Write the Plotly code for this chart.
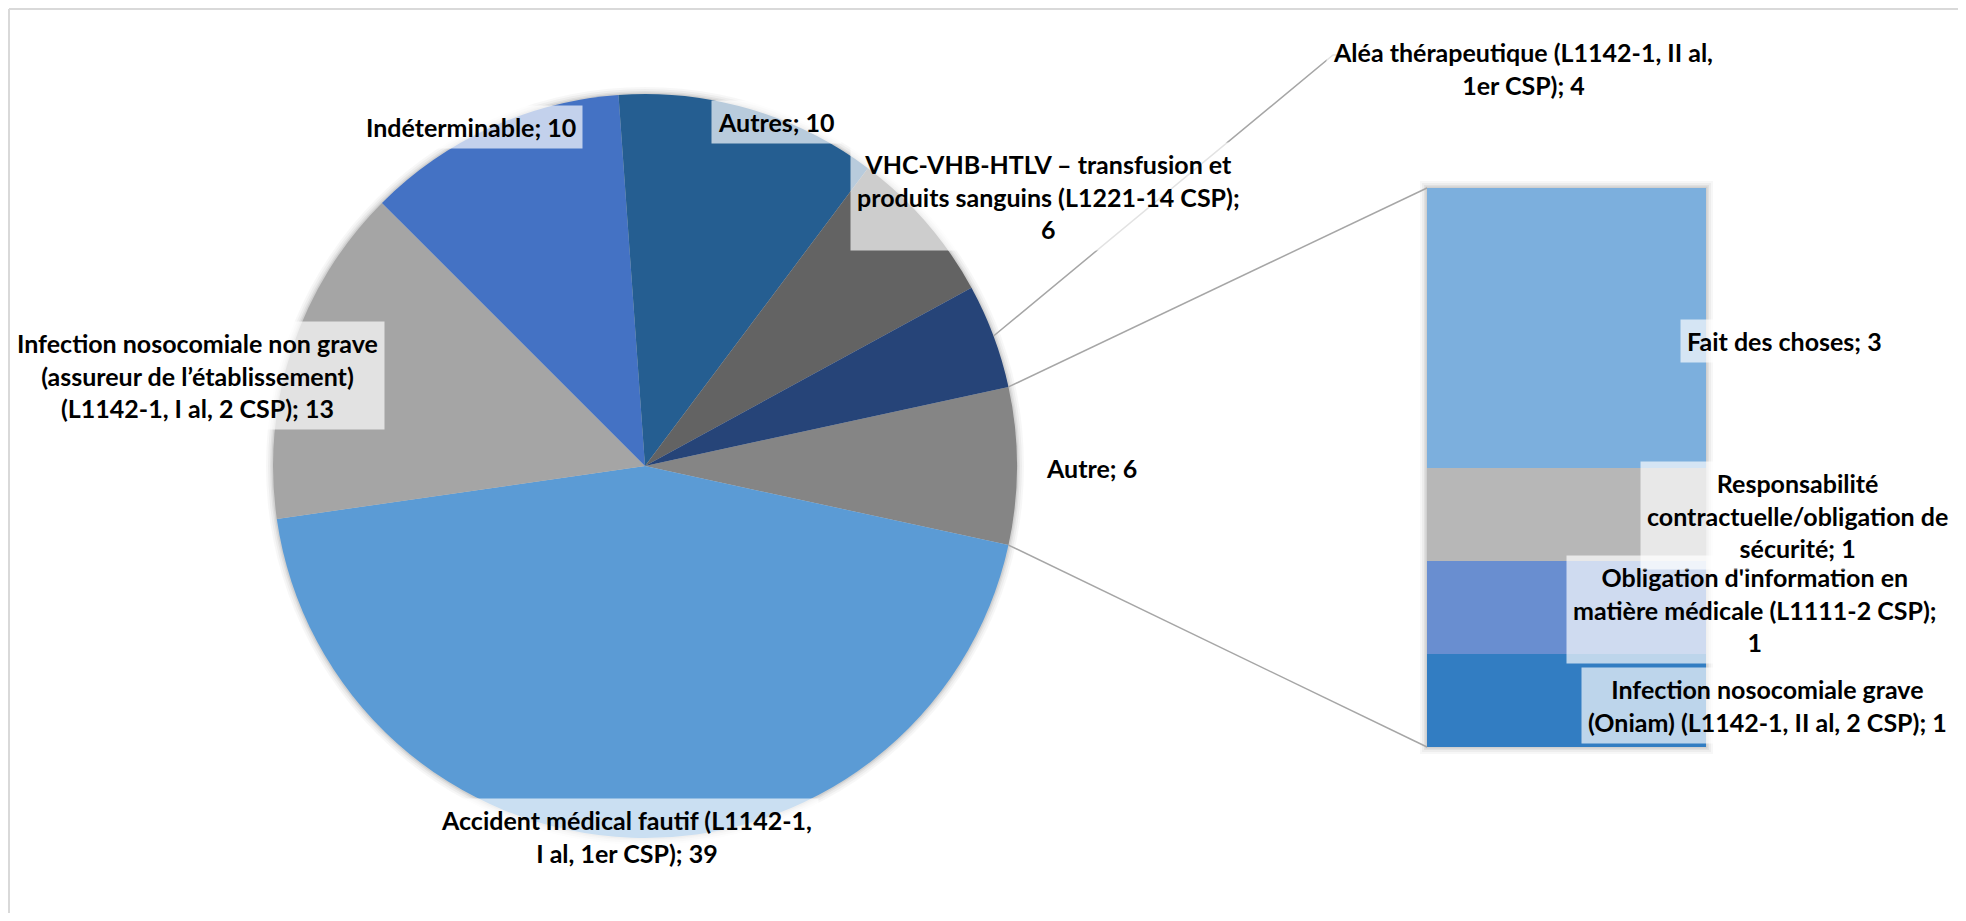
import math
import plotly.graph_objects as go

# ---------------- data ----------------
pie_categories = [
    "Autre",
    "Accident médical fautif (L1142-1, I al, 1er CSP)",
    "Infection nosocomiale non grave (assureur de l’établissement) (L1142-1, I al, 2 CSP)",
    "Indéterminable",
    "Autres",
    "VHC-VHB-HTLV – transfusion et produits sanguins (L1221-14 CSP)",
    "Aléa thérapeutique (L1142-1, II al, 1er CSP)",
]
main_values = [39, 13, 10, 10, 6, 4]          # slices other than "Autre"

bar_categories = [
    "Infection nosocomiale grave (Oniam) (L1142-1, II al, 2 CSP)",
    "Obligation d'information en matière médicale (L1111-2 CSP)",
    "Responsabilité contractuelle/obligation de sécurité",
    "Fait des choses",
]
bar_values = [1, 1, 1, 3]

pie_values = [sum(bar_values)] + main_values

# label texts (line-wrapped like the original)
pie_label_text = [
    "Autre",
    "Accident médical fautif (L1142-1,<br>I al, 1er CSP)",
    "Infection nosocomiale non grave<br>(assureur de l’établissement)<br>(L1142-1, I al, 2 CSP)",
    "Indéterminable",
    "Autres",
    "VHC-VHB-HTLV – transfusion et<br>produits sanguins (L1221-14 CSP);<br>",
    "Aléa thérapeutique (L1142-1, II al,<br>1er CSP)",
]
bar_label_text = [
    "Infection nosocomiale grave<br>(Oniam) (L1142-1, II al, 2 CSP)",
    "Obligation d'information en<br>matière médicale (L1111-2 CSP);<br>",
    "Responsabilité<br>contractuelle/obligation de<br>sécurité",
    "Fait des choses",
]

# ---------------- styles / layout ----------------
pie_colors = ["#858585", "#5B9BD5", "#A5A5A5", "#4472C4", "#255E91", "#636363", "#264478"]
bar_colors = ["#327DC2", "#698ED0", "#B7B7B7", "#7CAFDD"]

OFF = 8
W, H = 1950, 905
CX, CY, R = 645, 466, 372
BAR_L, BAR_R, BAR_T, BAR_B = 1427, 1706, 188, 747

pie_label_pos = [(1091, 468), (626, 836), (197, 375), (471, 127), (776, 122), (1048, 196), (1523, 68)]
bar_label_pos = [(1767, 705), (1755, 609), (1797, 515), (1784, 341)]

FONT = "Lato, 'Open Sans', sans-serif"
FS = 25
LINE = "#A6A6A6"


def fx(px):
    return (px - OFF) / W


def fy(py):
    return 1 - (py - OFF) / H


total = sum(pie_values)
half_other = 360.0 * pie_values[0] / total / 2
rotation = 90 - half_other

fig = go.Figure()

# soft shadow behind pie and bar
for k, a in [(7, 0.03), (5, 0.04), (3, 0.05), (1.5, 0.07)]:
    fig.add_shape(type="circle", xref="x", yref="y", x0=CX - R - k, x1=CX + R + k,
                  y0=CY - R - k, y1=CY + R + k, line_width=0,
                  fillcolor=f"rgba(0,0,0,{a})", layer="below")
    fig.add_shape(type="rect", xref="x", yref="y", x0=BAR_L - k, x1=BAR_R + k,
                  y0=BAR_T - k, y1=BAR_B + k, line_width=0,
                  fillcolor=f"rgba(0,0,0,{a})", layer="below")

fig.add_trace(go.Pie(
    labels=pie_categories, values=pie_values, sort=False, direction="clockwise",
    rotation=rotation, textinfo="none", hoverinfo="label+value",
    marker=dict(colors=pie_colors, line=dict(width=0)),
    domain=dict(x=[fx(CX - R), fx(CX + R)], y=[fy(CY + R), fy(CY - R)]),
    showlegend=False,
))

for cat, v, col in zip(bar_categories, bar_values, bar_colors):
    fig.add_trace(go.Bar(x=[0], y=[v], name=cat, width=1, marker=dict(color=col, line=dict(width=0)),
                         xaxis="x2", yaxis="y2", showlegend=False, hoverinfo="name+y"))

# connector lines between "Autre" slice and the bar
a = math.radians(half_other)
top_pt = (CX + R * math.cos(a), CY - R * math.sin(a))
bot_pt = (CX + R * math.cos(a), CY + R * math.sin(a))
for p, by in [(top_pt, BAR_T), (bot_pt, BAR_B)]:
    fig.add_shape(type="line", xref="x", yref="y", x0=p[0], y0=p[1], x1=BAR_L, y1=by,
                  line=dict(color=LINE, width=1.5))

# leader line for the "Aléa" slice (last slice, clockwise)
cum = sum(pie_values[:-1])
mid_compass = rotation + 360.0 * (cum + pie_values[-1] / 2) / total
mid_math = math.radians(90 - mid_compass)
lx0 = CX + R * math.cos(mid_math)
ly0 = CY - R * math.sin(mid_math)
fig.add_shape(type="path", xref="x", yref="y",
              path=f"M {lx0},{ly0} L 1333,55 L 1344,55",
              line=dict(color=LINE, width=1.5))

# frame lines (top & left)
fig.add_shape(type="line", xref="x", yref="y", x0=9, y0=9, x1=OFF + W, y1=9,
              line=dict(color="#D9D9D9", width=2))
fig.add_shape(type="line", xref="x", yref="y", x0=9, y0=9, x1=9, y1=OFF + H,
              line=dict(color="#D9D9D9", width=2))

# labels
def add_label(text, pos):
    fig.add_annotation(x=pos[0], y=pos[1], xref="x", yref="y", text=f"<b>{text}</b>",
                       showarrow=False, align="center", xanchor="center", yanchor="middle",
                       bgcolor="rgba(255,255,255,0.68)", borderpad=6,
                       font=dict(family=FONT, size=FS, color="#000000"))

for t, v, pos in zip(pie_label_text, pie_values, pie_label_pos):
    sep = "" if t.endswith("<br>") else "; "
    add_label(f"{t}{sep}{v}", pos)
for t, v, pos in zip(bar_label_text, bar_values, bar_label_pos):
    sep = "" if t.endswith("<br>") else "; "
    add_label(f"{t}{sep}{v}", pos)

fig.update_layout(
    width=W, height=H, margin=dict(l=0, r=0, t=0, b=0),
    paper_bgcolor="white", plot_bgcolor="rgba(0,0,0,0)",
    barmode="stack", bargap=0,
    xaxis=dict(range=[OFF, OFF + W], domain=[0, 1], visible=False, fixedrange=True),
    yaxis=dict(range=[OFF + H, OFF], domain=[0, 1], visible=False, fixedrange=True),
    xaxis2=dict(range=[-0.5, 0.5], domain=[fx(BAR_L), fx(BAR_R)], anchor="y2", visible=False, fixedrange=True),
    yaxis2=dict(range=[0, sum(bar_values)], domain=[fy(BAR_B), fy(BAR_T)], anchor="x2", visible=False, fixedrange=True),
    font=dict(family=FONT),
)

fig.write_html("out.html")
